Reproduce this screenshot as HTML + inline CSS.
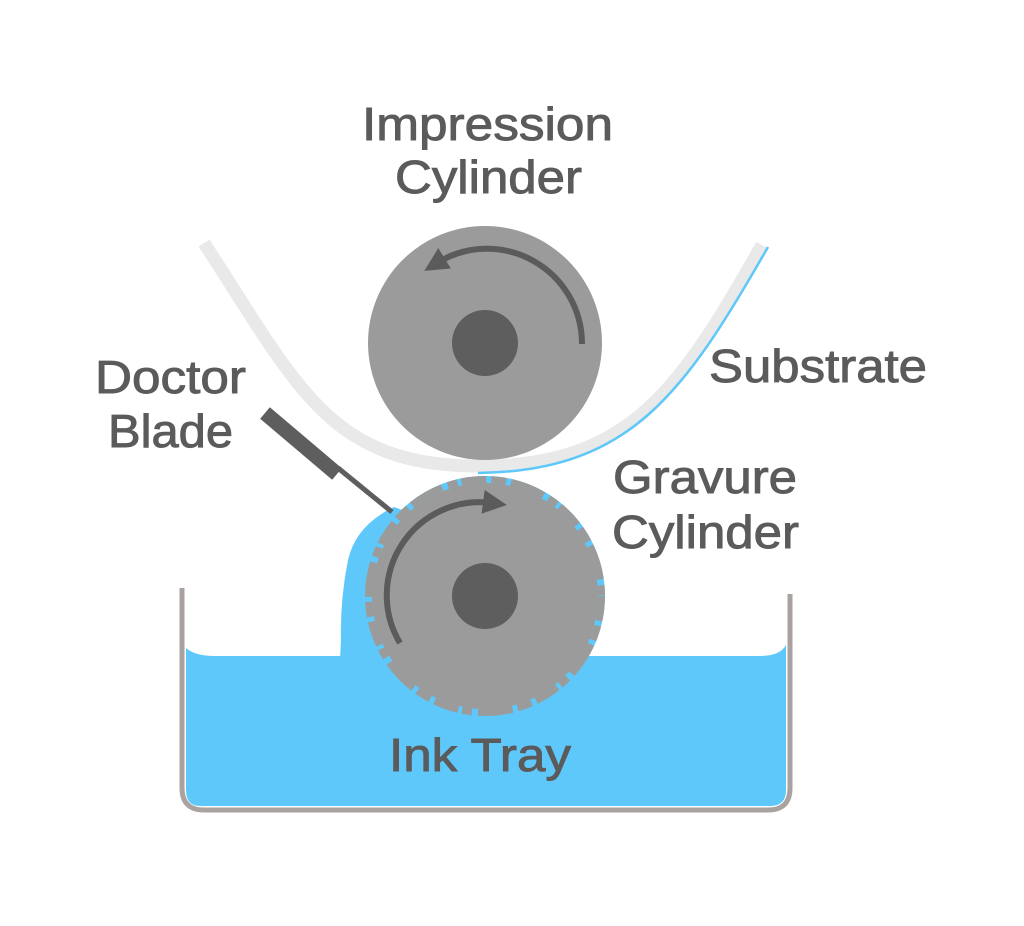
<!DOCTYPE html>
<html><head><meta charset="utf-8"><style>
html,body{margin:0;padding:0;background:#fff;}
svg{display:block;}
text{font-family:"Liberation Sans",sans-serif;fill:#5b5b5b;font-size:46px;stroke:#5b5b5b;stroke-width:0.9px;}
</style></head><body>
<svg width="1024" height="926" viewBox="0 0 1024 926" xmlns="http://www.w3.org/2000/svg">
<defs>
<marker id="ah" markerWidth="4" markerHeight="4" refX="1.5" refY="2" orient="auto" markerUnits="strokeWidth">
<path d="M0,0 L4,2 L0,4 Z" fill="#5b5b5b"/></marker>
</defs>
<path d="M186 648 Q195 656 215 656 L760 656 Q780 656 786 645 L786 790 Q786 806 770 806 L200 806 Q186 806 186 790 Z" fill="#5ec8fa"/>
<path d="M394 507 Q356 525 348 560 Q340 600 341 640 L340 660 L485 660 L485 540 Z" fill="#5ec8fa"/>
<circle cx="485" cy="596" r="120" fill="#5ec8fa"/>
<circle cx="485" cy="596" r="113" fill="#9b9b9b"/>
<circle cx="485" cy="596" r="116.5" fill="none" stroke="#9b9b9b" stroke-width="7" stroke-dasharray="25 5 15 5 35 6 10 4"/>
<circle cx="485" cy="596" r="33" fill="#5e5e5e"/>
<path d="M400 643 A93 93 0 0 1 492 503" fill="none" stroke="#5b5b5b" stroke-width="6" marker-end="url(#ah)"/>
<path d="M182 588 L182 788 Q182 810 204 810 L768 810 Q790 810 790 788 L790 594" fill="none" stroke="#aaa29e" stroke-width="5"/>
<path d="M204 243 C300 390 330 468 485 466 C630 464 680 390 762 245" fill="none" stroke="#e9e9e9" stroke-width="13"/>
<path d="M478 473 C630 471 684 394 768 247" fill="none" stroke="#5ec8fa" stroke-width="2.5"/>
<circle cx="485" cy="343" r="117" fill="#9b9b9b"/>
<circle cx="485" cy="343" r="33" fill="#5e5e5e"/>
<path d="M582 344 A95 95 0 0 0 437 263" fill="none" stroke="#5b5b5b" stroke-width="6" marker-end="url(#ah)"/>
<path d="M338 468 L392 512" stroke="#5e5e5e" stroke-width="5"/>
<path d="M265 413 L337 474" stroke="#5e5e5e" stroke-width="15"/>
<text x="362" y="140" textLength="251" lengthAdjust="spacingAndGlyphs">Impression</text>
<text x="395" y="193" textLength="187" lengthAdjust="spacingAndGlyphs">Cylinder</text>
<text x="95" y="393" textLength="151" lengthAdjust="spacingAndGlyphs">Doctor</text>
<text x="108" y="447" textLength="125" lengthAdjust="spacingAndGlyphs">Blade</text>
<text x="709" y="382" textLength="218" lengthAdjust="spacingAndGlyphs">Substrate</text>
<text x="613" y="493" textLength="184" lengthAdjust="spacingAndGlyphs">Gravure</text>
<text x="612" y="548" textLength="187" lengthAdjust="spacingAndGlyphs">Cylinder</text>
<text x="389" y="771" textLength="182" lengthAdjust="spacingAndGlyphs">Ink Tray</text>
</svg>
</body></html>
